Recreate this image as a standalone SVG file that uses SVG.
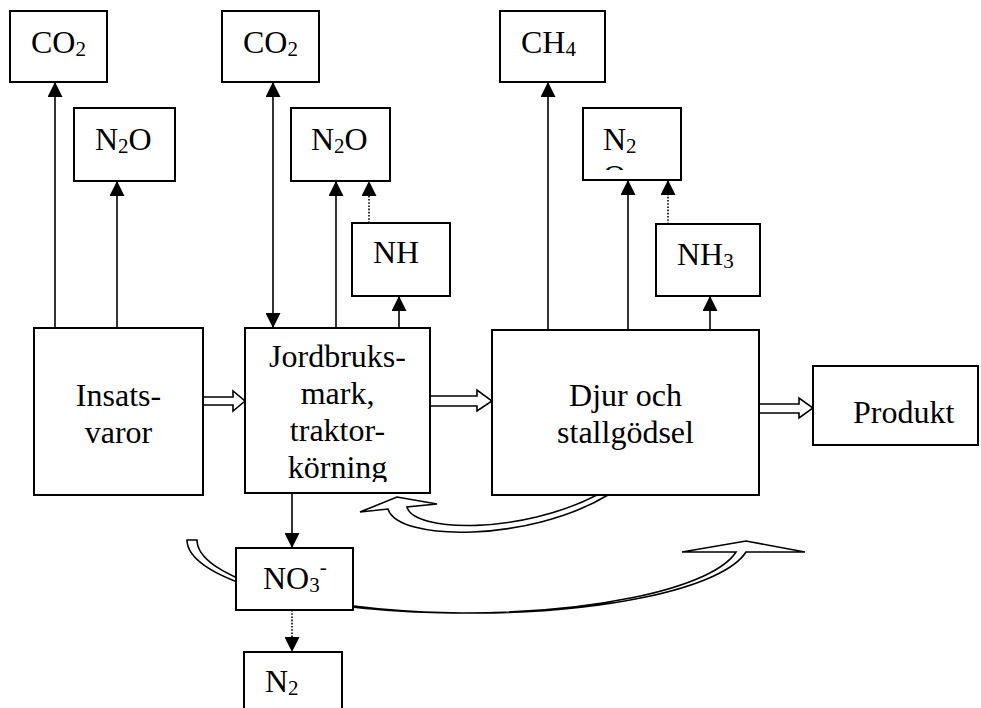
<svg xmlns="http://www.w3.org/2000/svg" width="981" height="708" viewBox="0 0 981 708">
<style>
.box{fill:#fff;stroke:#000;stroke-width:2}
.ln{fill:none;stroke:#000;stroke-width:1.6}
.dot{fill:none;stroke:#000;stroke-width:1.6;stroke-dasharray:1.6 1.6}
.hollow{fill:#fff;stroke:#000;stroke-width:1.6;stroke-linejoin:miter}
text{font-family:"Liberation Serif","Times New Roman",serif;font-size:32px;fill:#000}
.sub{font-size:21px}
.mid{text-anchor:middle}
</style>
<defs>
<marker id="ah" markerUnits="userSpaceOnUse" markerWidth="15" markerHeight="15" refX="15" refY="7.5" orient="auto-start-reverse">
<path d="M0 0 L15 7.5 L0 15 Z" fill="#000"/>
</marker>
<clipPath id="cJord"><rect x="246" y="329" width="183" height="153"/></clipPath>
<clipPath id="cN2Oc"><rect x="584" y="109" width="96" height="61"/></clipPath>
</defs>

<g id="connectors">
<line class="ln" x1="55" y1="328" x2="55" y2="82" marker-end="url(#ah)"/>
<line class="ln" x1="117" y1="328" x2="117" y2="181" marker-end="url(#ah)"/>
<line class="ln" x1="273" y1="82" x2="273" y2="328" marker-start="url(#ah)" marker-end="url(#ah)"/>
<line class="ln" x1="336" y1="328" x2="336" y2="181" marker-end="url(#ah)"/>
<line class="dot" x1="369" y1="223" x2="369" y2="181" marker-end="url(#ah)"/>
<line class="ln" x1="399" y1="328" x2="399" y2="296" marker-end="url(#ah)"/>
<line class="ln" x1="548" y1="330" x2="548" y2="82" marker-end="url(#ah)"/>
<line class="ln" x1="628" y1="330" x2="628" y2="180" marker-end="url(#ah)"/>
<line class="dot" x1="668" y1="224" x2="668" y2="180" marker-end="url(#ah)"/>
<line class="ln" x1="710" y1="330" x2="710" y2="296" marker-end="url(#ah)"/>
<line class="ln" x1="292" y1="493" x2="292" y2="548" marker-end="url(#ah)"/>
<line class="dot" x1="292" y1="610" x2="292" y2="652" marker-end="url(#ah)"/>
<polygon class="hollow" points="203,397 233,397 233,391 245,401 233,411 233,405 203,405"/>
<polygon class="hollow" points="430,396 477,396 477,390 492,401 477,411 477,406 430,406"/>
<polygon class="hollow" points="759,404 799,404 799,398 813,408 799,418 799,413 759,413"/>
<path class="hollow" d="M 610 488 L 608 495 C 530 542, 398 542, 388 509 L 360 512 L 397 497 L 437 504 L 407 507 C 414 533, 522 534, 597 495 L 599 488 Z"/>
<path class="hollow" d="M 187 540 A 276.4 73 0 0 0 736 552 L 682 552 L 746 541 L 805 552 L 746 552 A 276.4 73 0 0 1 197 540 Z"/>
</g>

<g id="co2-a"><rect class="box" x="10" y="11" width="97" height="71"/><text x="31" y="53">CO<tspan class="sub" dy="3">2</tspan></text></g>
<g id="n2o-a"><rect class="box" x="74" y="108" width="101" height="73"/><text x="95" y="150">N<tspan class="sub" dy="3">2</tspan><tspan dy="-3">O</tspan></text></g>
<g id="co2-b"><rect class="box" x="222" y="11" width="97" height="71"/><text x="243" y="53">CO<tspan class="sub" dy="3">2</tspan></text></g>
<g id="n2o-b"><rect class="box" x="291" y="108" width="99" height="73"/><text x="311" y="150">N<tspan class="sub" dy="3">2</tspan><tspan dy="-3">O</tspan></text></g>
<g id="nh"><rect class="box" x="352" y="223" width="98" height="73"/><text x="373" y="263">NH</text></g>
<g id="ch4"><rect class="box" x="500" y="11" width="105" height="71"/><text x="521" y="53">CH<tspan class="sub" dy="3">4</tspan></text></g>
<g id="n2o-c"><rect class="box" x="583" y="108" width="98" height="72"/><g clip-path="url(#cN2Oc)"><text x="603" y="150">N<tspan class="sub" dy="3">2</tspan></text><text x="603" y="187">O</text></g></g>
<g id="nh3"><rect class="box" x="656" y="224" width="104" height="72"/><text x="677" y="265">NH<tspan class="sub" dy="3">3</tspan></text></g>
<g id="insatsvaror"><rect class="box" x="34" y="328" width="169" height="167"/><text class="mid" x="118.5" y="406">Insats-</text><text class="mid" x="118.5" y="443">varor</text></g>
<g id="jordbruksmark"><rect class="box" x="245" y="328" width="185" height="165"/><g clip-path="url(#cJord)"><text class="mid" x="337.5" y="367">Jordbruks-</text><text class="mid" x="337.5" y="404">mark,</text><text class="mid" x="337.5" y="441">traktor-</text><text class="mid" x="337.5" y="478">körning</text></g></g>
<g id="djur"><rect class="box" x="492" y="330" width="267" height="165"/><text class="mid" x="625.5" y="406">Djur och</text><text class="mid" x="625.5" y="443">stallgödsel</text></g>
<g id="produkt"><rect class="box" x="813" y="366" width="165" height="79"/><text x="853" y="423">Produkt</text></g>
<g id="no3"><rect class="box" x="236" y="548" width="117" height="62"/><text x="263" y="589">NO<tspan class="sub" dy="3">3</tspan><tspan class="sub" dy="-18">-</tspan></text></g>
<g id="n2"><rect class="box" x="244" y="652" width="98" height="70"/><text x="265" y="692">N<tspan class="sub" dy="3">2</tspan></text></g>
</svg>
